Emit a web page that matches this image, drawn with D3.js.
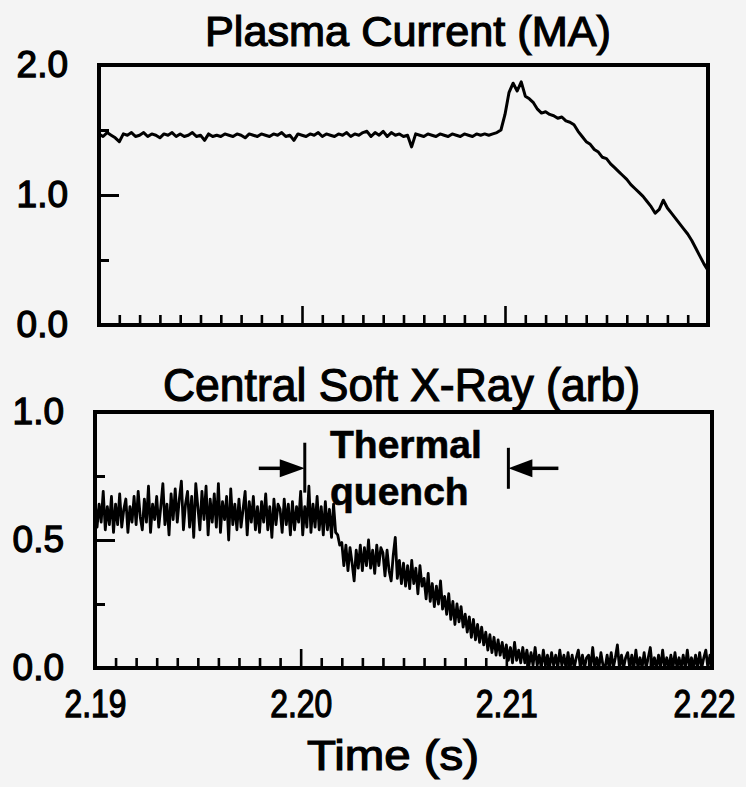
<!DOCTYPE html>
<html>
<head>
<meta charset="utf-8">
<script src="https://cdn.jsdelivr.net/npm/d3@7"></script>
<style>
  html, body { margin: 0; padding: 0; background: #f4f4f4; }
  svg { display: block; }
</style>
</head>
<body>
<div id="chart-area"></div>
<script>
// plasma current (MA), sampled every 0.2 ms from 2.19 s
const ipStart = 2.19, ipStep = 0.0002;
const ipValues = [
    1.47,1.45,1.48,1.46,1.44,1.41,1.47,1.46,1.48,1.45,
    1.46,1.48,1.45,1.47,1.46,1.44,1.47,1.46,1.48,1.45,
    1.47,1.45,1.46,1.48,1.45,1.46,1.42,1.47,1.45,1.46,
    1.45,1.47,1.46,1.45,1.47,1.46,1.44,1.47,1.46,1.45,
    1.47,1.46,1.45,1.47,1.46,1.48,1.45,1.46,1.42,1.47,
    1.46,1.45,1.47,1.46,1.48,1.45,1.47,1.46,1.45,1.47,
    1.46,1.48,1.45,1.47,1.46,1.48,1.49,1.45,1.48,1.46,
    1.49,1.45,1.48,1.46,1.47,1.45,1.46,1.37,1.47,1.46,
    1.45,1.47,1.46,1.45,1.47,1.46,1.45,1.47,1.46,1.45,
    1.47,1.46,1.45,1.47,1.46,1.47,1.46,1.47,1.48,1.50,
    1.62,1.79,1.86,1.80,1.87,1.76,1.74,1.71,1.66,1.63,
    1.64,1.62,1.61,1.59,1.60,1.57,1.56,1.54,1.49,1.45,
    1.41,1.39,1.35,1.33,1.29,1.28,1.24,1.21,1.18,1.15,
    1.12,1.08,1.05,1.02,0.99,0.95,0.91,0.86,0.89,0.96,
    0.90,0.86,0.82,0.78,0.74,0.70,0.65,0.59,0.53,0.47,
    0.42
];

// central soft x-ray (arb), sampled every 0.1 ms from 2.19 s
const sxrStart = 2.19, sxrStep = 0.0001;
const sxrValues = [
    .66,.55,.64,.57,.69,.54,.63,.56,.67,.53,
    .64,.56,.68,.55,.62,.66,.53,.63,.57,.67,
    .56,.69,.59,.54,.66,.57,.71,.53,.64,.58,
    .67,.55,.63,.72,.56,.64,.52,.68,.58,.70,
    .57,.66,.73,.54,.64,.69,.55,.67,.51,.72,
    .63,.54,.69,.58,.71,.52,.66,.57,.68,.55,
    .72,.53,.65,.58,.67,.50,.70,.56,.64,.54,
    .66,.55,.62,.69,.52,.65,.57,.67,.54,.63,
    .53,.65,.57,.68,.54,.63,.51,.66,.56,.64,
    .62,.53,.66,.56,.64,.52,.65,.54,.63,.57,
    .69,.52,.63,.55,.71,.53,.64,.55,.67,.54,
    .63,.52,.65,.54,.62,.51,.64,.53,.52,.48,
    .49,.40,.48,.38,.47,.41,.34,.46,.39,.48,
    .38,.47,.40,.50,.39,.46,.37,.48,.40,.47,
    .45,.36,.46,.38,.34,.44,.51,.35,.42,.33,
    .41,.32,.40,.31,.42,.33,.39,.29,.40,.32,
    .35,.27,.37,.26,.33,.24,.32,.25,.34,.23,
    .28,.21,.29,.19,.26,.17,.25,.18,.24,.16,
    .21,.14,.20,.12,.19,.11,.17,.10,.16,.09,
    .14,.07,.13,.06,.12,.05,.11,.05,.10,.04,
    .09,.03,.08,.02,.10,.03,.07,.02,.08,.02,
    .07,.01,.06,.01,.08,.01,.05,.00,.07,.01,
    .05,.00,.06,.01,.05,.00,.07,.01,.05,.00,
    .06,.00,.05,.00,.04,.07,.00,.05,.00,.04,
    .05,.00,.08,.00,.04,.00,.06,.01,.00,.05,
    .00,.06,.00,.04,.09,.00,.05,.00,.04,.06,
    .00,.05,.00,.07,.00,.04,.00,.06,.00,.04,
    .08,.00,.04,.00,.05,.00,.07,.00,.04,.00,
    .05,.00,.06,.00,.04,.00,.05,.00,.07,.00,
    .04,.00,.05,.00,.06,.00,.04,.07,.00,.05,
    .03
];

const timeTicks = [2.19, 2.20, 2.21, 2.22];
const timeLabels = ['2.19', '2.20', '2.21', '2.22'];
const ipTicks = [0, 1, 2];
const ipLabels = ['0.0', '1.0', '2.0'];
const ipMinor = [0.5, 1.5];
const sxrTicks = [0, 0.5, 1];
const sxrLabels = ['0.0', '0.5', '1.0'];
const sxrMinor = [0.25, 0.75];
const quench = [2.2002, 2.2101];   // start / end of thermal quench (s)
const arrowLevel = 0.78;

const font = '"Liberation Sans", Arial, sans-serif';
const minorTime = d3.range(1, 30).filter(i => i % 10 !== 0).map(i => 2.19 + i * 0.001);

const svg = d3.select('#chart-area')
    .append('svg')
    .attr('width', 746)
    .attr('height', 787);

svg.append('rect')
    .attr('width', 746)
    .attr('height', 787)
    .attr('fill', '#f4f4f4');

function drawPanel(box, yDomain, yTicks, yLabels, yMinor, values, start, step, showXLabels) {
    const x = d3.scaleLinear().domain([2.19, 2.22]).range([box.left, box.right]);
    const y = d3.scaleLinear().domain(yDomain).range([box.bottom, box.top]);

    // minor time ticks
    svg.append('g')
        .attr('transform', 'translate(0, ' + box.bottom + ')')
        .call(d3.axisBottom(x).tickValues(minorTime).tickSize(-10).tickFormat(''))
        .call(g => g.select('.domain').remove())
        .selectAll('line').attr('stroke', '#000').attr('stroke-width', 2.6);

    // major time ticks (+ labels on the lower panel)
    const xAxis = svg.append('g')
        .attr('transform', 'translate(0, ' + box.bottom + ')')
        .call(d3.axisBottom(x).tickValues(timeTicks).tickSize(-19).tickPadding(22)
            .tickFormat((d, i) => showXLabels ? timeLabels[i] : ''));
    xAxis.select('.domain').remove();
    xAxis.selectAll('line').attr('stroke', '#000').attr('stroke-width', 2.6);
    xAxis.selectAll('text')
        .attr('fill', '#000')
        .attr('stroke', '#000')
        .attr('stroke-width', 1.3)
        .attr('dx', (d, i) => i === timeTicks.length - 1 ? -8 : 0)
        .style('font-family', font)
        .style('font-size', '38px')
        .attr('textLength', 62)
        .attr('lengthAdjust', 'spacingAndGlyphs');

    // minor value ticks
    svg.append('g')
        .attr('transform', 'translate(' + box.left + ', 0)')
        .call(d3.axisLeft(y).tickValues(yMinor).tickSize(-10).tickFormat(''))
        .call(g => g.select('.domain').remove())
        .selectAll('line').attr('stroke', '#000').attr('stroke-width', 3);

    const yAxis = svg.append('g')
        .attr('transform', 'translate(' + box.left + ', 0)')
        .call(d3.axisLeft(y).tickValues(yTicks).tickSize(-20).tickPadding(31)
            .tickFormat((d, i) => yLabels[i]));
    yAxis.select('.domain').remove();
    yAxis.selectAll('line').attr('stroke', '#000').attr('stroke-width', 3);
    yAxis.selectAll('text')
        .attr('fill', '#000')
        .attr('stroke', '#000')
        .attr('stroke-width', 1.3)
        .style('font-family', font)
        .style('font-size', '37px');

    const line = d3.line()
        .x((d, i) => x(start + i * step))
        .y(d => y(d));

    svg.append('path')
        .datum(values)
        .attr('fill', 'none')
        .attr('stroke', '#000')
        .attr('stroke-width', box.lineWidth)
        .attr('stroke-linejoin', 'round')
        .attr('d', line);

    svg.append('rect')
        .attr('x', box.left)
        .attr('y', box.top)
        .attr('width', box.right - box.left)
        .attr('height', box.bottom - box.top)
        .attr('fill', 'none')
        .attr('stroke', '#000')
        .attr('stroke-width', 4);

    return {x, y};
}

const topBox = {left: 99, right: 708, top: 65, bottom: 325, lineWidth: 3};
const bottomBox = {left: 95, right: 712, top: 412, bottom: 668, lineWidth: 2.8};

drawPanel(topBox, [0, 2], ipTicks, ipLabels, ipMinor, ipValues, ipStart, ipStep, false);
const sxr = drawPanel(bottomBox, [0, 1], sxrTicks, sxrLabels, sxrMinor, sxrValues, sxrStart, sxrStep, true);

function title(text, x, y, size, len) {
    svg.append('text')
        .attr('x', x)
        .attr('y', y)
        .attr('fill', '#000')
        .attr('stroke', '#000')
        .attr('stroke-width', 1.2)
        .attr('textLength', len)
        .attr('lengthAdjust', 'spacingAndGlyphs')
        .style('font-family', font)
        .style('font-size', size + 'px')
        .text(text);
}

title('Plasma Current (MA)', 205, 46, 43, 406);
title('Central Soft X-Ray (arb)', 163, 401, 46, 477);
title('Time (s)', 307, 770, 42, 172);

// thermal quench annotation
svg.append('text')
    .attr('x', 330).attr('y', 458)
    .attr('font-weight', 'bold')
    .attr('stroke', '#000').attr('stroke-width', 0.6)
    .style('font-family', font).style('font-size', '39px')
    .text('Thermal');
svg.append('text')
    .attr('x', 330).attr('y', 505)
    .attr('font-weight', 'bold')
    .attr('stroke', '#000').attr('stroke-width', 0.6)
    .style('font-family', font).style('font-size', '39px')
    .text('quench');

const ay = sxr.y(arrowLevel);
const x0 = sxr.x(quench[0]), x1 = sxr.x(quench[1]);

svg.append('line')
    .attr('x1', x0).attr('x2', x0)
    .attr('y1', sxr.y(0.88)).attr('y2', sxr.y(0.685))
    .attr('stroke', '#000').attr('stroke-width', 3);
svg.append('line')
    .attr('x1', x1).attr('x2', x1)
    .attr('y1', sxr.y(0.86)).attr('y2', sxr.y(0.70))
    .attr('stroke', '#000').attr('stroke-width', 3);

svg.append('line')
    .attr('x1', x0 - 46).attr('x2', x0 - 20)
    .attr('y1', ay).attr('y2', ay)
    .attr('stroke', '#000').attr('stroke-width', 3.5);
svg.append('path')
    .attr('d', 'M' + x0 + ',' + ay + 'L' + (x0 - 25) + ',' + (ay - 9) + 'L' + (x0 - 25) + ',' + (ay + 9) + 'Z')
    .attr('fill', '#000');

svg.append('line')
    .attr('x1', x1 + 20).attr('x2', x1 + 50)
    .attr('y1', ay).attr('y2', ay)
    .attr('stroke', '#000').attr('stroke-width', 3.5);
svg.append('path')
    .attr('d', 'M' + x1 + ',' + ay + 'L' + (x1 + 24) + ',' + (ay - 9) + 'L' + (x1 + 24) + ',' + (ay + 9) + 'Z')
    .attr('fill', '#000');
</script>
</body>
</html>
